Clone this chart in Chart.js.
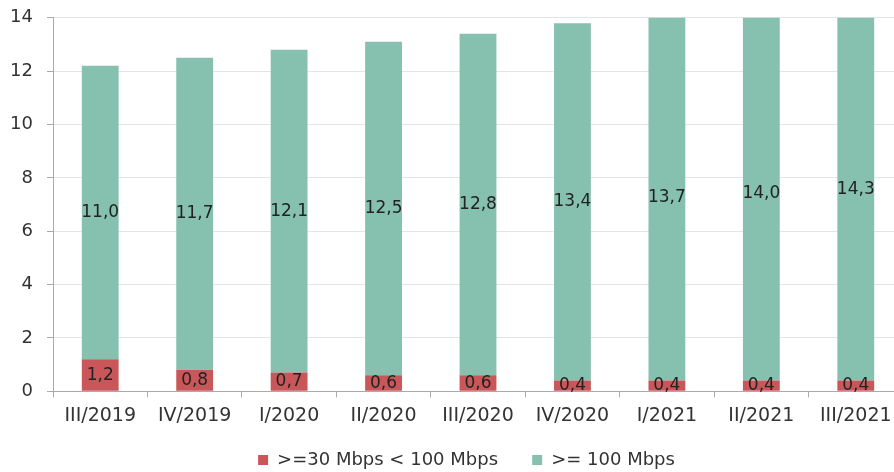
<!DOCTYPE html>
<html>
<head>
<meta charset="utf-8">
<script src="https://cdn.jsdelivr.net/npm/chart.js@4"></script>
<style>
html,body{margin:0;padding:0;background:#fff;overflow:hidden;}
#wrap{width:903px;height:486px;margin-top:-7px;}
</style>
</head>
<body>
<div id="wrap"><canvas id="c"></canvas></div>
<script>
const quarters=['III/2019','IV/2019','I/2020','II/2020','III/2020','IV/2020','I/2021','II/2021','III/2021'];
const mid=[1.2,0.8,0.7,0.6,0.6,0.4,0.4,0.4,0.4];
const high=[11.0,11.7,12.1,12.5,12.8,13.4,13.7,14.0,14.3];
const yTicks=[0,2,4,6,8,10,12,14];

const RED='#c9575a',GREEN='#86c1b0';

// labels centred on each segment, using the real (unclipped) value
const segLabels={
  id:'segLabels',
  afterDatasetsDraw(chart){
    const ctx=chart.ctx,y=chart.scales.y;
    ctx.save();
    ctx.font='17px "DejaVu Sans"';
    ctx.fillStyle='#222';
    ctx.textAlign='center';ctx.textBaseline='middle';
    chart.data.datasets.forEach((ds,di)=>{
      chart.getDatasetMeta(di).data.forEach((bar,i)=>{
        let base=0;
        for(let k=0;k<di;k++) base+=chart.data.datasets[k].data[i];
        const v=ds.data[i];
        ctx.fillText(v.toFixed(1).replace('.',','),bar.x,y.getPixelForValue(base+v/2));
      });
    });
    ctx.restore();
  }
};
// legend sits a little right of centre in the original
const legendShift={
  id:'legendShift',
  afterLayout(chart){const lg=chart.legend;lg.left+=15;lg.right+=15;}
};

new Chart(document.getElementById('c'),{
  type:'bar',
  data:{labels:quarters,datasets:[
    {label:'>=30 Mbps < 100 Mbps',data:mid,backgroundColor:RED},
    {label:'>= 100 Mbps',data:high,backgroundColor:GREEN}
  ]},
  options:{
    responsive:true,maintainAspectRatio:false,animation:false,
    layout:{padding:{top:2,right:0,left:0,bottom:0}},
    datasets:{bar:{categoryPercentage:1,barPercentage:0.39}},
    plugins:{
      tooltip:{enabled:false},
      legend:{position:'bottom',labels:{boxWidth:10,boxHeight:10,padding:17,color:'#333',font:{family:'DejaVu Sans',size:18},
        generateLabels(chart){
          const items=Chart.defaults.plugins.legend.labels.generateLabels(chart);
          items[0].text+='   ';
          return items;
        }}}
    },
    scales:{
      x:{stacked:true,
        grid:{drawOnChartArea:false,drawTicks:true,tickLength:6,color:'#aaa',offset:true},
        border:{color:'#aaa'},
        ticks:{color:'#333',font:{family:'DejaVu Sans',size:19},padding:7,maxRotation:0,autoSkip:false}},
      y:{stacked:true,min:0,max:14,
        afterBuildTicks(s){s.ticks=yTicks.map(v=>({value:v}));},
        afterFit(s){s.width=53;},
        grid:{color:'#e4e4e4',tickLength:6,tickColor:'#aaa'},
        border:{color:'#aaa'},
        ticks:{color:'#333',font:{family:'DejaVu Sans',size:18},padding:14}}
    }
  },
  plugins:[segLabels,legendShift]
});
</script>
</body>
</html>
